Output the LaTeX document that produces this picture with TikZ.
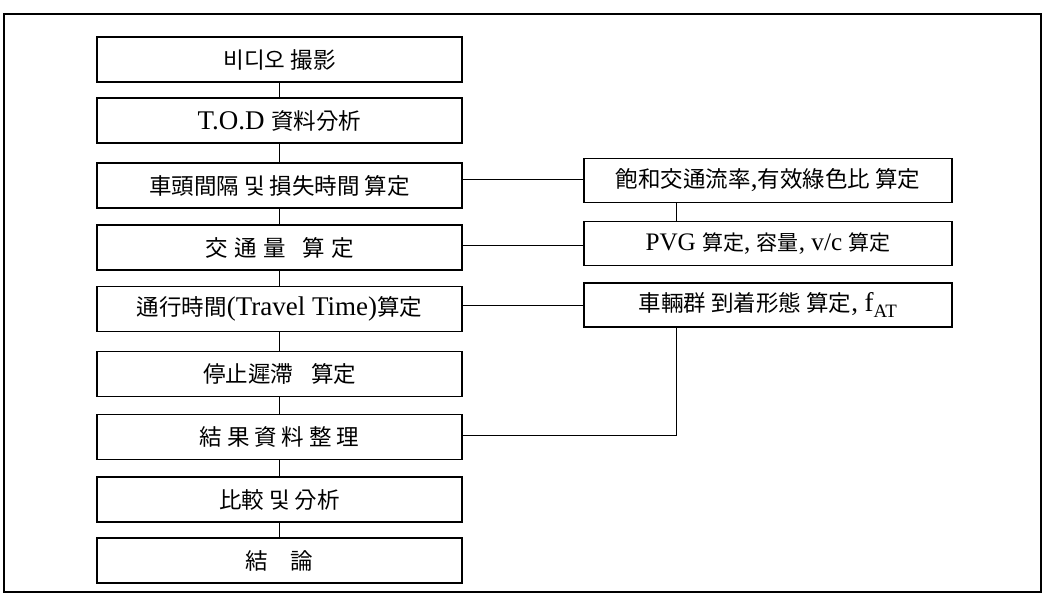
\documentclass[tikz,border=0pt]{standalone}
\usepackage{fontspec}
\setmainfont{Liberation Serif}[Scale=1.2]
\newfontfamily\kr{Noto Sans CJK KR}
\begin{document}
\begin{tikzpicture}[x=1pt,y=-1pt,
  lbox/.style={draw,line width=1.3pt,minimum width=365pt,minimum height=45pt,inner sep=0pt,font=\fontsize{22.5}{26}\selectfont},
  rbox/.style={draw,line width=1.3pt,minimum width=368pt,minimum height=44pt,inner sep=0pt,font=\fontsize{22.5}{26}\selectfont},
  conn/.style={line width=1pt}]
\useasboundingbox (0,0) rectangle (1046,600);
\draw[line width=1.8pt] (4,14) rectangle (1041,592);
% left column
\node[lbox] (a1) at (279.5,59.5) {\kr 비디오 撮影};
\node[lbox] (a2) at (279.5,120.5) {T.O.D {\kr 資料分析}};
\node[lbox] (a3) at (279.5,185.5) {\kr 車頭間隔 및 損失時間 算定};
\node[lbox] (a4) at (279.5,247.5) {\kr 交\hspace{0.3em}通\hspace{0.3em}量\hspace{0.7em}算\hspace{0.3em}定};
\node[lbox] (a5) at (279.5,309) {{\kr 通行時間}(Travel Time){\kr 算定}};
\node[lbox] (a6) at (279.5,374) {\kr 停止遲滯\hspace{0.8em}算定};
\node[lbox] (a7) at (279.5,437) {\kr 結\hspace{0.22em}果\hspace{0.22em}資\hspace{0.22em}料\hspace{0.22em}整\hspace{0.22em}理};
\node[lbox] (a8) at (279.5,499.5) {\kr 比較 및 分析};
\node[lbox] (a9) at (279.5,560.5) {\kr 結\hspace{1em}論};
% right column
\node[rbox] (b1) at (768,180.5) {{\kr 飽和交通流率},{\kr 有效綠色比 算定}};
\node[rbox,font=\fontsize{21}{24}\selectfont] (b2) at (768,243.5) {PVG {\kr 算定}, {\kr 容量}, v/c {\kr 算定}};
\node[rbox] (b3) at (768,305) {{\kr 車輛群 到着形態 算定}, f\textsubscript{AT}};
% vertical flow
\foreach \u/\v in {a1/a2,a2/a3,a3/a4,a4/a5,a5/a6,a6/a7,a7/a8,a8/a9}
  \draw[conn] (\u.south) -- (\v.north);
% horizontal links
\draw[conn] (a3.east |- 0,179) -- (b1.west |- 0,179);
\draw[conn] (a4.east |- 0,245) -- (b2.west |- 0,245);
\draw[conn] (a5.east |- 0,305) -- (b3.west);
\coordinate (j1) at (676,0);
\draw[conn] (b1.south -| j1) -- (b2.north -| j1);
\coordinate (c1) at (676,435);
\draw[conn] (b3.south -| c1) -- (c1) -- (a7.east |- c1);
\end{tikzpicture}
\end{document}
